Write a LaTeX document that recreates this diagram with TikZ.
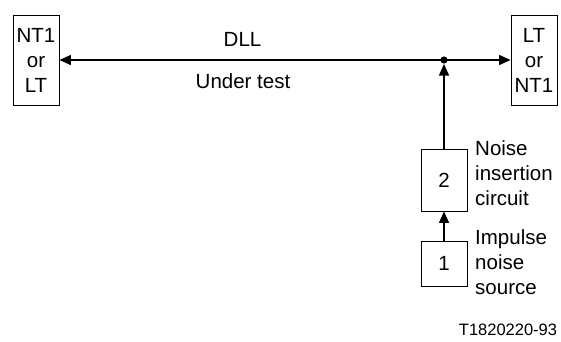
\documentclass[tikz,border=0pt]{standalone}
\usepackage{fontspec}
\setmainfont{Liberation Sans}
\usetikzlibrary{arrows.meta}
\begin{document}
\begin{tikzpicture}[x=1pt,y=-1pt,
  box/.style={draw,line width=0.9pt,minimum width=46pt,inner sep=0pt,align=center,font=\fontsize{20.5}{25}\selectfont},
  lbl/.style={inner sep=0pt,align=left,anchor=west,font=\fontsize{20.5}{25}\selectfont},
  txt/.style={inner sep=0pt,font=\fontsize{20.5}{25}\selectfont},
  conn/.style={line width=1.3pt,-{Triangle[length=11.5pt,width=10pt]}}]
\useasboundingbox (0,0) rectangle (561,341);
\node[box,minimum height=90pt] (l) at (36,60) {NT1\\or\\LT};
\node[box,minimum height=90pt] (r) at (534,60) {LT\\or\\NT1};
\node[box,minimum height=62pt] (b2) at (444,180) {2};
\node[box,minimum height=45pt] (b1) at (444,263.5) {1};
\coordinate (j) at (444,60);
\coordinate (jb) at (444,64);
\draw[conn] (j) -- (l.east);
\draw[conn] (j) -- (r.west);
\fill (j) circle (3.6pt);
\draw[conn] (b2.north) -- (jb);
\draw[conn] (b1.north) -- (b2.south);
\node[txt] (dll) at (242.5,39) {DLL};
\node[txt] (ut) at (243,81) {Under test};
\node[lbl] (n2) at (475,173) {Noise\\insertion\\circuit};
\node[lbl] (n1) at (475,262) {Impulse\\noise\\source};
\node[inner sep=0pt,font=\fontsize{16.5}{20}\selectfont] (id) at (508,330) {T1820220-93};
\end{tikzpicture}
\end{document}
